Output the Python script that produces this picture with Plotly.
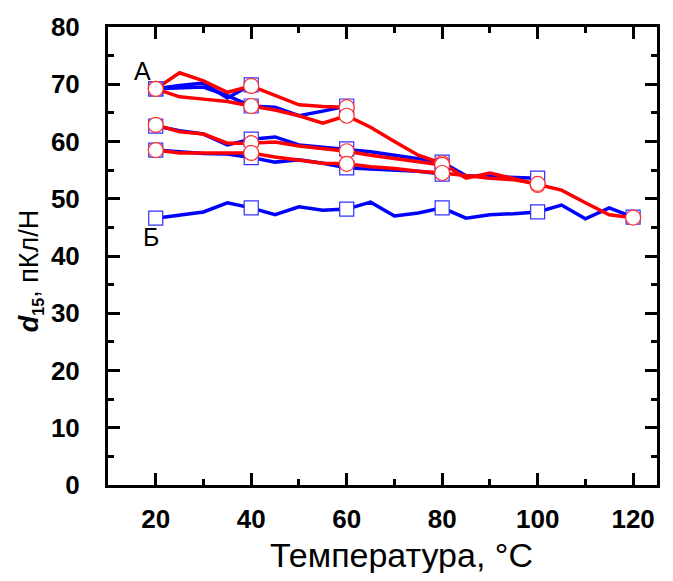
import plotly.graph_objects as go

# temperatures (°C), 5-degree steps
T = [20, 25, 30, 35, 40, 45, 50, 55, 60, 65, 70, 75, 80, 85, 90, 95, 100, 105, 110, 115, 120]

# blue (square markers) series
blue_1 = [69.2, 69.8, 70.2, 67.6, 69.9]
blue_2 = [69.2, 69.3, 69.5, 68.0, 66.2, 66.0, 64.5, 65.3, 66.2]
blue_m = [62.7, 61.9, 61.3, 59.4, 60.4, 60.8, 59.4, 59.0, 58.7, 58.2, 57.6, 57.0, 56.4, 54.0, 53.9, 53.8, 53.6]
blue_l = [58.5, 58.2, 57.9, 57.8, 57.2, 56.4, 56.8, 56.2, 55.4, 55.2, 55.0, 54.8, 54.3]
blue_b = [46.6, 47.2, 47.7, 49.3, 48.4, 47.2, 48.6, 48.0, 48.2, 49.4, 47.0, 47.5, 48.4,
          46.6, 47.2, 47.4, 47.7, 48.9, 46.5, 48.4, 46.8]

# red (circle markers) series
red_1 = [69.2, 72.0, 70.6, 68.6, 69.7, 68.0, 66.4, 66.1, 66.0]
red_2 = [69.2, 67.8, 67.4, 67.0, 66.2, 65.5, 64.5, 63.2, 64.5, 62.5, 60.0, 57.6, 56.2,
         53.6, 54.5, 53.5, 52.4, 51.5, 49.3, 47.2, 46.7]
red_m = [62.9, 61.7, 61.3, 59.7, 59.7, 59.9, 59.2, 58.8, 58.3, 57.6, 57.0, 56.4, 55.9]
red_l = [58.5, 58.0, 58.0, 58.0, 58.0, 57.3, 56.8, 56.2, 56.1, 55.6, 55.3, 54.8, 54.5,
         54.0, 53.6, 53.3, 52.6]

blue_series = [blue_1, blue_2, blue_m, blue_l, blue_b]
red_series = [red_1, red_2, red_m, red_l]

x_ticks = [20, 40, 60, 80, 100, 120]
y_ticks = [0, 10, 20, 30, 40, 50, 60, 70, 80]

BLUE = "#0000ff"
RED = "#ff0000"
FONT = "Liberation Sans, Arial, sans-serif"

fig = go.Figure()

# lines first
for ys in blue_series:
    fig.add_trace(go.Scatter(x=T[:len(ys)], y=ys, mode="lines",
                             line=dict(color=BLUE, width=3.5), showlegend=False, hoverinfo="skip"))
for ys in red_series:
    fig.add_trace(go.Scatter(x=T[:len(ys)], y=ys, mode="lines",
                             line=dict(color=RED, width=3.5), showlegend=False, hoverinfo="skip"))

def marker_pts(ys):
    xs = [t for t, _ in zip(T, ys) if t % 20 == 0]
    vs = [v for t, v in zip(T, ys) if t % 20 == 0]
    return xs, vs

for ys in blue_series:
    mx, my = marker_pts(ys)
    fig.add_trace(go.Scatter(x=mx, y=my, mode="markers",
                             marker=dict(symbol="square", size=14, color="white",
                                         line=dict(color="#3030ff", width=1.2)),
                             showlegend=False, hoverinfo="skip"))
for ys in red_series:
    mx, my = marker_pts(ys)
    fig.add_trace(go.Scatter(x=mx, y=my, mode="markers",
                             marker=dict(symbol="circle", size=15, color="white",
                                         line=dict(color="#ff3030", width=1.2)),
                             showlegend=False, hoverinfo="skip"))

fig.add_annotation(x=17.3, y=72.3, text="А", showarrow=False,
                   font=dict(family=FONT, size=25, color="black"))
fig.add_annotation(x=19.0, y=43.3, text="Б", showarrow=False,
                   font=dict(family=FONT, size=25, color="black"))

# axis titles as annotations (paper coordinates)
fig.add_annotation(xref="paper", yref="paper", x=0.535, y=-0.152, yanchor="middle",
                   text="Температура, °C", showarrow=False,
                   font=dict(family=FONT, size=34, color="black"))
fig.add_annotation(xref="paper", yref="paper", x=-0.142, y=0.467, xanchor="center",
                   yanchor="middle", textangle=-90,
                   text="<b><i>d</i></b><sub><b><span style='font-size:16px'>15</span></b></sub>, пКл/Н",
                   showarrow=False,
                   font=dict(family=FONT, size=27, color="black"))

axis_common = dict(
    showline=True, linecolor="black", linewidth=3, mirror="ticks",
    ticks="inside", ticklen=12, tickwidth=3, tickcolor="black",
    showgrid=False, zeroline=False, automargin=False,
    tickfont=dict(family=FONT, size=26, color="black", weight="bold"),
)

fig.update_xaxes(range=[10, 125], tickvals=x_ticks, ticktext=[str(v) for v in x_ticks],
                 minor=dict(ticks="inside", ticklen=6, tickwidth=3, tickcolor="black",
                            dtick=10, tick0=10, showgrid=False),
                 ticklabelstandoff=9,
                 **axis_common)
fig.update_yaxes(range=[0, 80], tickvals=y_ticks, ticktext=[str(v) for v in y_ticks],
                 minor=dict(ticks="inside", ticklen=6, tickwidth=3, tickcolor="black",
                            dtick=5, tick0=0, showgrid=False),
                 ticklabelstandoff=20,
                 **axis_common)

fig.update_layout(width=657, height=565, plot_bgcolor="white", paper_bgcolor="white",
                  margin=dict(l=100, r=8, t=19, b=88))

fig.write_html("out.html")
